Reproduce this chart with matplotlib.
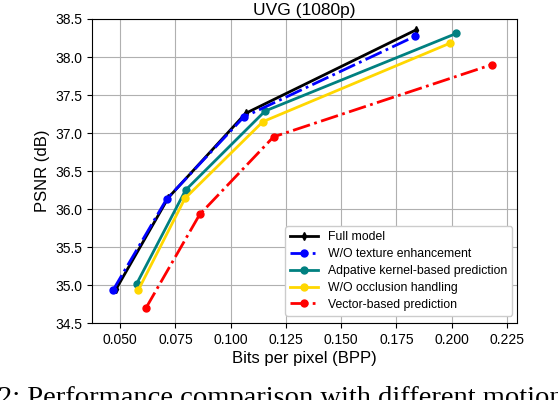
import matplotlib
matplotlib.use("Agg")
import matplotlib.pyplot as plt

plt.rcParams['font.family'] = ['Liberation Sans', 'DejaVu Sans']

# bits per pixel / PSNR
full_bpp = [0.0482, 0.0718, 0.1068, 0.1841]
full_psnr = [34.95, 36.15, 37.26, 38.36]

tex_bpp = [0.0467, 0.0710, 0.1059, 0.1832]
tex_psnr = [34.93, 36.13, 37.21, 38.27]

kern_bpp = [0.0575, 0.0796, 0.1156, 0.2021]
kern_psnr = [35.02, 36.25, 37.29, 38.31]

occ_bpp = [0.0583, 0.0793, 0.1146, 0.1991]
occ_psnr = [34.94, 36.14, 37.15, 38.18]

vec_bpp = [0.0617, 0.0860, 0.1194, 0.2182]
vec_psnr = [34.70, 35.93, 36.95, 37.90]

xticks = [0.050, 0.075, 0.100, 0.125, 0.150, 0.175, 0.200, 0.225]
yticks = [34.5, 35.0, 35.5, 36.0, 36.5, 37.0, 37.5, 38.0, 38.5]

fig = plt.figure(figsize=(5.58, 4.0), dpi=100)
ax = fig.add_axes([0.165, 0.192, 0.762, 0.7605])

ax.plot(full_bpp, full_psnr, '-', color='black', marker='d', ms=4, lw=2, label="Full model", zorder=5)
ax.plot(tex_bpp, tex_psnr, '-.', color='blue', marker='o', ms=5, lw=2, label="W/O texture enhancement", zorder=6)
ax.plot(kern_bpp, kern_psnr, '-', color='#008080', marker='o', ms=5, lw=2, label="Adpative kernel-based prediction")
ax.plot(occ_bpp, occ_psnr, '-', color='#FFD700', marker='o', ms=5, lw=2, label="W/O occlusion handling")
ax.plot(vec_bpp, vec_psnr, '-.', color='red', marker='o', ms=5, lw=2, label="Vector-based prediction")

ax.set_xlim(0.0373, 0.2297)
ax.set_ylim(34.5, 38.5)
ax.set_xticks(xticks)
ax.set_yticks(yticks)
ax.set_xticklabels(["%.3f" % v for v in xticks])
ax.set_yticklabels(["%.1f" % v for v in yticks])
ax.tick_params(labelsize=10)
ax.grid(True, color='#b0b0b0', lw=0.8)
ax.set_axisbelow(True)

ax.set_xlabel("Bits per pixel (BPP)", fontsize=12, labelpad=3)
ax.set_ylabel("PSNR (dB)", fontsize=12)
ax.set_title("UVG (1080p)", fontsize=12.5, pad=3)

ax.legend(loc='lower right', bbox_to_anchor=(0.988, 0.025), borderaxespad=0, fontsize=8.8,
          handlelength=2.3, labelspacing=0.4, fancybox=True, framealpha=1)

# caption of the paper, cut by the crop
fig.text(-0.004, -0.012, "2: Performance comparison with different motion", family=['Liberation Serif', 'DejaVu Serif'],
         fontsize=20.5, ha='left', va='baseline')

fig.savefig("out.png", dpi=100)
